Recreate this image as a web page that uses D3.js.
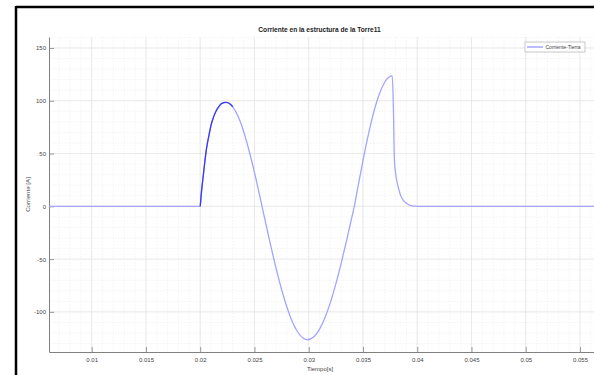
<!DOCTYPE html>
<html><head><meta charset="utf-8">
<script src="https://cdn.jsdelivr.net/npm/d3@7"></script>
<style>body{margin:0;background:#fff}svg{display:block}text{font-family:"Liberation Sans",Arial,sans-serif}</style>
</head><body><svg id="c" width="594" height="375"></svg>
<script>
const title = "Corriente en la estructura de la Torre11";
const xLabel = "Tiempo[s]";
const yLabel = "Corriente [A]";
const seriesName = "Corriente-Tierra";
const xTicks = [0.01,0.015,0.02,0.025,0.03,0.035,0.04,0.045,0.05,0.055];
const xTickLabels = ["0.01","0.015","0.02","0.025","0.03","0.035","0.04","0.045","0.05","0.055"];
const yTicks = [-100,-50,0,50,100,150];
const yTickLabels = ["-100","-50","0","50","100","150"];
const xDomain = [0.006065, 0.05629];
const yDomain = [-138, 160.4];
const time = [0.00606,0.0200,0.02010,0.02023,0.02040,0.02060,0.02080,0.02100,0.02121,0.02150,0.02175,0.02200,0.02238,
  0.02275,0.02300,0.02350,0.02400,0.02450,0.02500,0.02550,0.02570,
  0.02600,0.02650,0.02700,0.02750,0.02800,0.02850,0.02900,0.02950,0.02990,
  0.03050,0.03100,0.03150,0.03200,0.03250,0.03300,0.03350,0.03400,0.03420,
  0.03450,0.03500,0.03550,0.03600,0.03650,0.03700,0.03740,0.03770,
  0.03780,0.03790,0.03805,0.03826,0.03850,0.03872,0.03900,0.03934,0.03980,0.04030,0.0563];
const current = [0,0,12,24.5,40,56,67,77,84,91,95,97.5,98.5,
  97.0,94.3,85.0,70.9,52.9,32.1,9.3,0,
  -14.2,-37.3,-59.1,-78.8,-95.8,-109.5,-119.3,-125.0,-126.4,
  -123.4,-116.3,-105.4,-91.0,-73.5,-53.5,-31.9,-9.2,0,
  16.6,43.4,68.1,89.4,106.1,117.5,122.5,123.6,
  95,43,28,18,9.5,5.7,3,1,0.2,0,0];
const darkEnd = 0.0232;

const svg = d3.select("#c");
const L=49, R=594, T=37, B=352;
const x = d3.scaleLinear().domain(xDomain).range([L,R]);
const y = d3.scaleLinear().domain(yDomain).range([B,T]);

// frame
svg.append("line").attr("x1",16).attr("x2",16).attr("y1",6).attr("y2",375).attr("stroke","#000").attr("stroke-width",2.5);
svg.append("line").attr("x1",16).attr("x2",594).attr("y1",7).attr("y2",7).attr("stroke","#000").attr("stroke-width",2.5);

const g = svg.append("g");
// minor grid
const xMinor = d3.range(0.007, 0.0565, 0.001);
const yMinor = d3.range(-130, 161, 10);
g.selectAll(".xm").data(xMinor).join("line").attr("x1",d=>x(d)).attr("x2",d=>x(d)).attr("y1",T).attr("y2",B)
  .attr("stroke","#ececec").attr("stroke-width",0.6).attr("stroke-dasharray","1.5,1.5");
g.selectAll(".ym").data(yMinor).join("line").attr("y1",d=>y(d)).attr("y2",d=>y(d)).attr("x1",L).attr("x2",R)
  .attr("stroke","#ececec").attr("stroke-width",0.6).attr("stroke-dasharray","1.5,1.5");
// major grid
g.selectAll(".xg").data(xTicks).join("line").attr("x1",d=>x(d)).attr("x2",d=>x(d)).attr("y1",T).attr("y2",B)
  .attr("stroke","#e2e2e2").attr("stroke-width",0.7);
g.selectAll(".yg").data(yTicks).join("line").attr("y1",d=>y(d)).attr("y2",d=>y(d)).attr("x1",L).attr("x2",R)
  .attr("stroke","#e2e2e2").attr("stroke-width",0.7);

// axes
const xAxis = d3.axisBottom(x).tickValues(xTicks).tickFormat((d,i)=>xTickLabels[i]).tickSizeInner(-5).tickSizeOuter(0).tickPadding(6);
const yAxis = d3.axisLeft(y).tickValues(yTicks).tickFormat((d,i)=>yTickLabels[i]).tickSizeInner(-5).tickSizeOuter(0).tickPadding(3);
const gx = svg.append("g").attr("transform",`translate(0,${B})`).call(xAxis);
const gy = svg.append("g").attr("transform",`translate(${L},0)`).call(yAxis);
[gx,gy].forEach(a=>{
  a.select(".domain").attr("stroke","#808080").attr("stroke-width",1);
  a.selectAll(".tick line").attr("stroke","#808080").attr("stroke-width",0.8);
  a.selectAll(".tick text").attr("fill","#444").attr("font-size","6px").attr("font-family","Liberation Sans, Arial, sans-serif");
});

// data
const pts = time.map((t,i)=>[t,current[i]]);
const line = d3.line().x(d=>x(d[0])).y(d=>y(d[1])).curve(d3.curveMonotoneX);
svg.append("path").attr("d",line(pts)).attr("fill","none").attr("stroke","#a4a4ff").attr("stroke-width",1.3);
const darkPts = pts.filter(d=>d[0]>=0.02 && d[0]<=darkEnd);
svg.append("path").attr("d",line(darkPts)).attr("fill","none").attr("stroke","#3a3af0").attr("stroke-width",1.3);

// title & labels
svg.append("text").attr("x",(L+R)/2-2).attr("y",32).attr("text-anchor","middle").attr("font-size","6.6px").attr("font-weight","bold").attr("fill","#222").text(title);
svg.append("text").attr("x",320).attr("y",371).attr("text-anchor","middle").attr("font-size","6px").attr("fill","#444").text(xLabel);
svg.append("text").attr("transform",`translate(30,${(T+B)/2}) rotate(-90)`).attr("text-anchor","middle").attr("font-size","6.2px").attr("fill","#444").text(yLabel);

// legend
svg.append("rect").attr("x",525).attr("y",42).attr("width",60).attr("height",10).attr("fill","#fff").attr("stroke","#b0b0b0").attr("stroke-width",0.7);
svg.append("line").attr("x1",527).attr("x2",543).attr("y1",47).attr("y2",47).attr("stroke","#a4a4ff").attr("stroke-width",1.5);
svg.append("text").attr("x",545.5).attr("y",49).attr("font-size","5px").attr("fill","#444").text(seriesName);
</script></body></html>
